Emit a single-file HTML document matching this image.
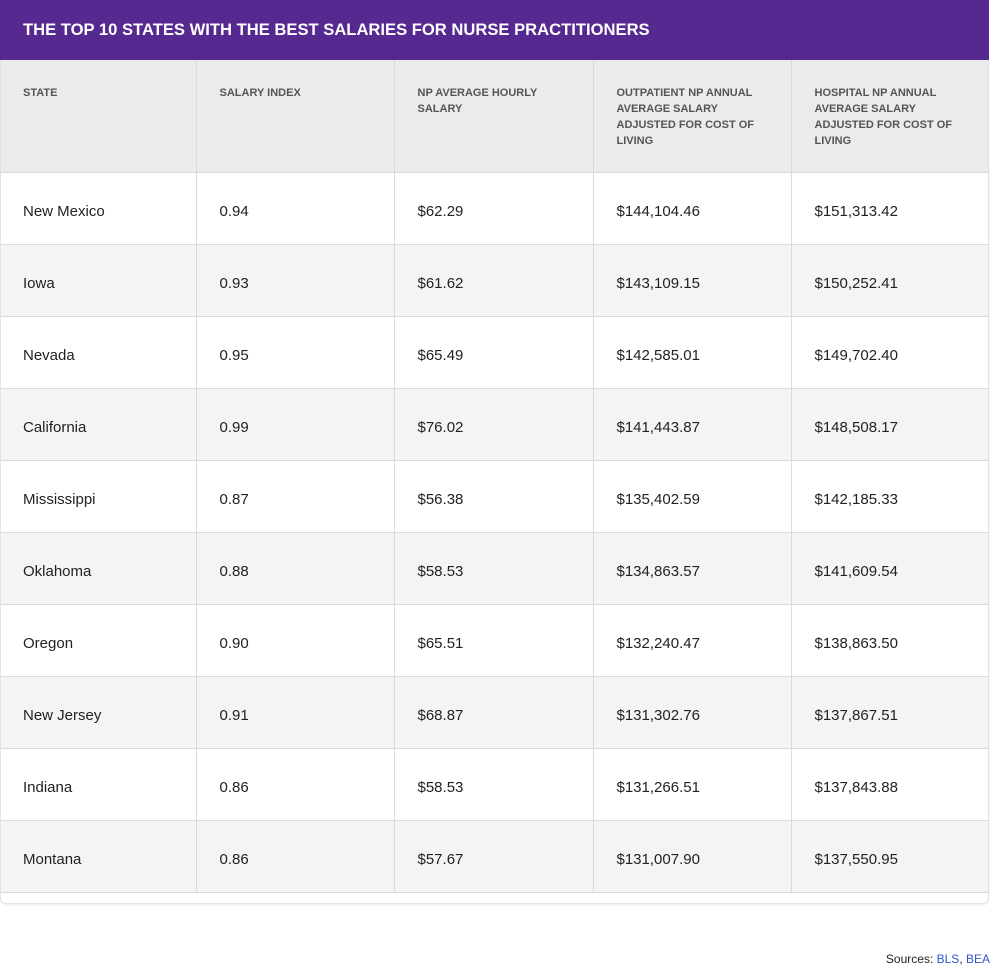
<!DOCTYPE html>
<html><head><meta charset="utf-8"><style>
body{margin:0;width:991px;height:977px;background:#fff;font-family:"Liberation Sans",sans-serif;position:relative;overflow:hidden}
#title{position:absolute;left:0;top:0;width:989px;height:60px;background:#55298f;color:#fff;font-weight:bold;font-size:16.6px;line-height:60px;padding-left:23px;box-sizing:border-box}
table{position:absolute;left:0;top:60px;width:989px;border-collapse:collapse;table-layout:fixed}
td,th{border:1px solid #dadada;padding:6px 0 0 23px;text-align:left;vertical-align:middle;font-size:15px;color:#222;height:72px;box-sizing:border-box;font-weight:normal}
tr:first-child th,tr:first-child td{border-top:none}
td:first-child,th:first-child{border-left:none}
td:last-child,th:last-child{border-right:none}
th{background:#ebebeb;height:112px;vertical-align:top;font-size:11px;font-weight:bold;color:#555;line-height:16px;padding-top:25px;padding-right:20px;box-sizing:border-box}
tr.alt td{background:#f4f4f4}
#tb{position:absolute;left:0;top:60px;width:989px;height:844px;border:1px solid #e2e2e2;border-top:none;border-radius:0 0 6px 6px;box-sizing:border-box;pointer-events:none;box-shadow:0 1px 2px rgba(0,0,0,.08)}
#src{position:absolute;right:1px;top:952px;font-size:12px;color:#222}
#src span{color:#2a56c6}
</style></head><body>
<div id="title">THE TOP 10 STATES WITH THE BEST SALARIES FOR NURSE PRACTITIONERS</div>
<table>
<colgroup><col style="width:196px"><col style="width:198px"><col style="width:199px"><col style="width:198px"><col style="width:198px"></colgroup>
<tr><th>STATE</th><th>SALARY INDEX</th><th>NP AVERAGE HOURLY SALARY</th><th>OUTPATIENT NP ANNUAL AVERAGE SALARY ADJUSTED FOR COST OF LIVING</th><th>HOSPITAL NP ANNUAL AVERAGE SALARY ADJUSTED FOR COST OF LIVING</th></tr>
<tr><td>New Mexico</td><td>0.94</td><td>$62.29</td><td>$144,104.46</td><td>$151,313.42</td></tr>
<tr class="alt"><td>Iowa</td><td>0.93</td><td>$61.62</td><td>$143,109.15</td><td>$150,252.41</td></tr>
<tr><td>Nevada</td><td>0.95</td><td>$65.49</td><td>$142,585.01</td><td>$149,702.40</td></tr>
<tr class="alt"><td>California</td><td>0.99</td><td>$76.02</td><td>$141,443.87</td><td>$148,508.17</td></tr>
<tr><td>Mississippi</td><td>0.87</td><td>$56.38</td><td>$135,402.59</td><td>$142,185.33</td></tr>
<tr class="alt"><td>Oklahoma</td><td>0.88</td><td>$58.53</td><td>$134,863.57</td><td>$141,609.54</td></tr>
<tr><td>Oregon</td><td>0.90</td><td>$65.51</td><td>$132,240.47</td><td>$138,863.50</td></tr>
<tr class="alt"><td>New Jersey</td><td>0.91</td><td>$68.87</td><td>$131,302.76</td><td>$137,867.51</td></tr>
<tr><td>Indiana</td><td>0.86</td><td>$58.53</td><td>$131,266.51</td><td>$137,843.88</td></tr>
<tr class="alt"><td>Montana</td><td>0.86</td><td>$57.67</td><td>$131,007.90</td><td>$137,550.95</td></tr>
</table>
<div id="tb"></div>
<div id="src">Sources: <span>BLS</span>, <span>BEA</span></div>
</body></html>
